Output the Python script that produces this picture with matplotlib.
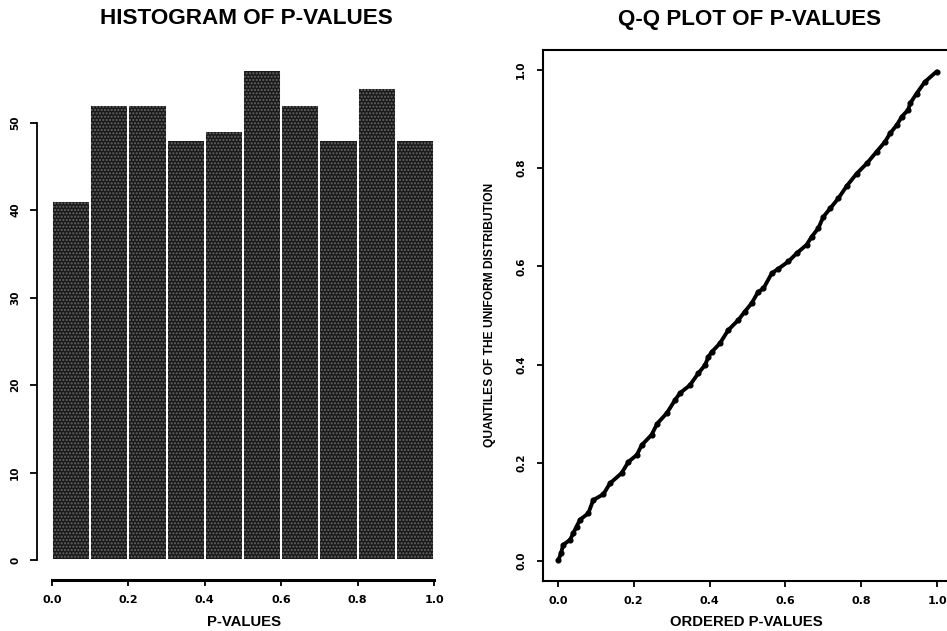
import matplotlib
matplotlib.use('Agg')
import matplotlib.pyplot as plt
from matplotlib import font_manager as fm

W, H = 947, 631

# ---------------- data ----------------
bin_edges = [0.0, 0.1, 0.2, 0.3, 0.4, 0.5, 0.6, 0.7, 0.8, 0.9, 1.0]
counts = [41, 52, 52, 48, 49, 56, 52, 48, 54, 48]
hist_yticks = [0, 10, 20, 30, 40, 50]
hist_ytick_labels = ['0', '10', '20', '30', '40', '50']
x_ticks = [0.0, 0.2, 0.4, 0.6, 0.8, 1.0]
x_tick_labels = ['0.0', '0.2', '0.4', '0.6', '0.8', '1.0']

qq_x = [0.001, 0.008, 0.014, 0.032, 0.040, 0.049, 0.058, 0.080, 0.093, 0.120,
        0.137, 0.168, 0.186, 0.208, 0.221, 0.247, 0.262, 0.287, 0.309, 0.322,
        0.348, 0.370, 0.388, 0.397, 0.406, 0.427, 0.449, 0.476, 0.493, 0.511,
        0.528, 0.542, 0.564, 0.581, 0.608, 0.630, 0.656, 0.669, 0.687, 0.700,
        0.718, 0.740, 0.762, 0.788, 0.815, 0.841, 0.863, 0.876, 0.894, 0.907,
        0.924, 0.929, 0.946, 0.968, 0.999]
qq_y = [0.001, 0.016, 0.033, 0.043, 0.056, 0.070, 0.084, 0.097, 0.124, 0.136,
        0.158, 0.179, 0.202, 0.216, 0.236, 0.257, 0.280, 0.301, 0.328, 0.342,
        0.358, 0.382, 0.399, 0.416, 0.426, 0.443, 0.470, 0.491, 0.508, 0.525,
        0.548, 0.555, 0.586, 0.595, 0.610, 0.627, 0.644, 0.660, 0.678, 0.701,
        0.718, 0.739, 0.764, 0.789, 0.810, 0.834, 0.854, 0.871, 0.888, 0.905,
        0.919, 0.932, 0.952, 0.976, 0.997]

# ---------------- fonts ----------------
def has_font(name):
    try:
        fm.findfont(fm.FontProperties(family=name), fallback_to_default=False)
        return True
    except Exception:
        return False

main_font = 'Liberation Sans' if has_font('Liberation Sans') else 'DejaVu Sans'
narrow_font = 'Liberation Sans Narrow' if has_font('Liberation Sans Narrow') else main_font
tick_font = 'DejaVu Sans'

fig = plt.figure(figsize=(W / 100, H / 100), dpi=100)
fig.patch.set_facecolor('white')


def px_rect(x0, y0, x1, y1):
    return [x0 / W, 1 - y1 / H, (x1 - x0) / W, (y1 - y0) / H]


# ---------------- histogram ----------------
ax1 = fig.add_axes(px_rect(36.7, 50.6, 449.3, 579.6))
ax1.bar(bin_edges[:-1], counts, width=0.1, align='edge', color='#1a1a1a',
        edgecolor='#666666', hatch='.....', linewidth=0)
ax1.bar(bin_edges[:-1], counts, width=0.1, align='edge', fill=False,
        edgecolor='white', linewidth=1.4)
ax1.set_xlim(-0.04, 1.04)
ax1.set_ylim(-2.24, 58.24)
for s in ['top', 'right']:
    ax1.spines[s].set_visible(False)
ax1.spines['left'].set_bounds(0, 50)
ax1.spines['bottom'].set_bounds(0, 1)
ax1.spines['left'].set_linewidth(1.3)
ax1.spines['bottom'].set_linewidth(2.2)
ax1.set_xticks(x_ticks)
ax1.set_xticklabels(x_tick_labels)
ax1.set_yticks(hist_yticks)
ax1.set_yticklabels(hist_ytick_labels)
ax1.tick_params(axis='x', direction='out', length=4, width=1.3, pad=7,
                labelsize=8)
ax1.tick_params(axis='y', direction='out', length=5, width=1.3, pad=7,
                labelsize=7.5, labelrotation=90)
for lab in ax1.get_xticklabels() + ax1.get_yticklabels():
    lab.set_fontweight('bold')
    lab.set_family(tick_font)
for lab in ax1.get_yticklabels():
    lab.set_va('center')

# ---------------- Q-Q plot ----------------
ax2 = fig.add_axes(px_rect(542.8, 50.4, 952.2, 580.6))
ax2.plot(qq_x, qq_y, '-', color='black', linewidth=2.8, solid_capstyle='round',
         solid_joinstyle='round')
ax2.plot(qq_x, qq_y, 'o', color='black', markersize=3.4)
ax2.set_xlim(-0.04, 1.04)
ax2.set_ylim(-0.04, 1.04)
for s in ax2.spines.values():
    s.set_linewidth(1.5)
ax2.set_xticks(x_ticks)
ax2.set_xticklabels(x_tick_labels)
ax2.set_yticks(x_ticks)
ax2.set_yticklabels(x_tick_labels)
ax2.tick_params(axis='x', direction='out', length=4, width=1.3, pad=7,
                labelsize=8)
ax2.tick_params(axis='y', direction='out', length=4, width=1.3, pad=8,
                labelsize=7.5, labelrotation=90)
for lab in ax2.get_xticklabels() + ax2.get_yticklabels():
    lab.set_fontweight('bold')
    lab.set_family(tick_font)
for lab in ax2.get_yticklabels():
    lab.set_va('center')

# ---------------- titles & labels ----------------
renderer = fig.canvas.get_renderer()


def fitted_text(xc, yc, s, target_len, family, weight, size, rotation=0):
    t = fig.text(xc / W, 1 - yc / H, s, ha='center', va='center',
                 family=family, fontweight=weight, fontsize=size)
    bb = t.get_window_extent(renderer)
    t.set_fontsize(size * target_len / bb.width)
    t.set_rotation(rotation)
    t.set_rotation_mode('anchor')
    return t


fitted_text(246, 19, 'HISTOGRAM OF P-VALUES', 293, main_font, 'bold', 15)
fitted_text(750, 19, 'Q-Q PLOT OF P-VALUES', 264, main_font, 'bold', 15)
fitted_text(244, 622, 'P-VALUES', 74, main_font, 'bold', 10)
fitted_text(746, 622, 'ORDERED P-VALUES', 153, main_font, 'bold', 10)
fitted_text(490, 315, 'QUANTILES OF THE UNIFORM DISTRIBUTION', 265,
            narrow_font, 'bold', 9, rotation=90)

fig.savefig('out.png', dpi=100, facecolor='white')
